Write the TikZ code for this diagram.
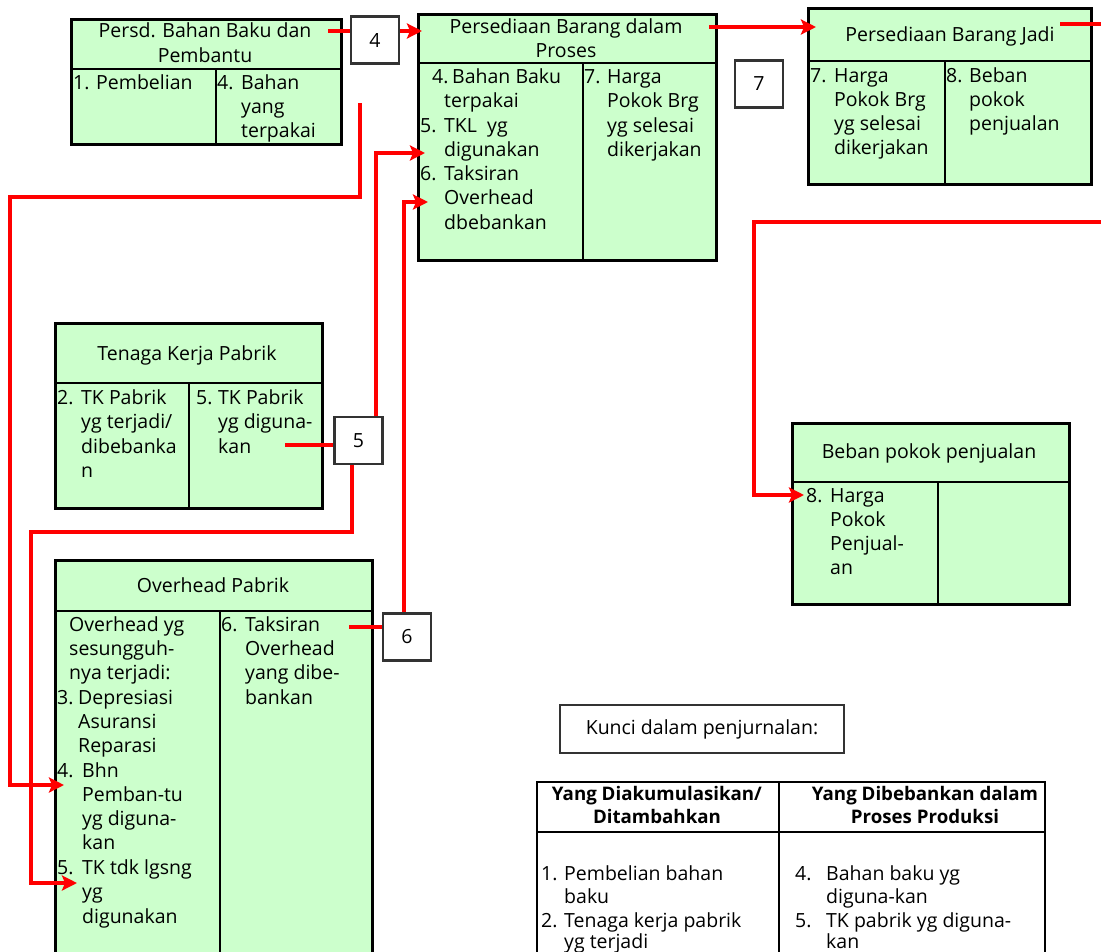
\documentclass[tikz,border=0pt]{standalone}
\usepackage{fontspec}
\setmainfont{Open Sans}
\usetikzlibrary{arrows.meta}
\definecolor{boxgreen}{HTML}{CCFFCC}
\definecolor{lnred}{HTML}{FF0000}
\newcounter{tnode}
\newcommand\TxtAt[3]{\stepcounter{tnode}\node[txt] (tx\number\value{tnode}) at (#1,#2) {#3};}
\newcommand\CtrAt[3]{\stepcounter{tnode}\node[txt,anchor=base] (tx\number\value{tnode}) at (#1,#2) {#3};}
\newcommand\BoldAt[3]{\stepcounter{tnode}\node[txt,anchor=base,font=\bfseries\fontsize{18.7}{22}\selectfont] (tx\number\value{tnode}) at (#1,#2) {#3};}
\begin{document}
\begin{tikzpicture}[x=1pt,y=-1pt,
  acct/.style={draw=black, fill=boxgreen, line width=2.5pt, rectangle, inner sep=0pt, anchor=north west},
  numbox/.style={draw=black!80, fill=white, line width=2.2pt, rectangle, inner sep=0pt, minimum width=48pt, minimum height=47pt, font=\fontsize{19.5}{19.5}\selectfont},
  div/.style={line width=2.5pt, draw=black},
  txt/.style={anchor=base west, inner sep=0pt, font=\fontsize{19.5}{24}\selectfont},
  flow/.style={draw=lnred, line width=4pt},
  flowarr/.style={flow, -{Stealth[length=15pt,width=15pt,inset=3pt]}},
]
\useasboundingbox (0,0) rectangle (1101,951);
\clip (0,0) rectangle (1101,951);

% ---------- account boxes ----------
\node[acct, minimum width=270pt, minimum height=125pt] (pbb) at (70,18) {};
\draw[div] (70,69) -- (340,69) (216,69) -- (216,143);

\node[acct, minimum width=298pt, minimum height=246pt] (pbdp) at (417,13) {};
\draw[div] (417,63) -- (715,63) (583,63) -- (583,259);

\node[acct, minimum width=283pt, minimum height=176pt] (pbj) at (807,7) {};
\draw[div] (807,61) -- (1090,61) (945,61) -- (945,183);

\node[acct, minimum width=277pt, minimum height=181pt] (bpp) at (791,422) {};
\draw[div] (791,482) -- (1068,482) (938,482) -- (938,603);

\node[acct, minimum width=267pt, minimum height=185pt] (tkp) at (54,322) {};
\draw[div] (54,383) -- (321,383) (189,383) -- (189,507);

\node[acct, minimum width=317pt, minimum height=420pt] (ovh) at (54,559) {};
\draw[div] (54,611) -- (371,611) (220,611) -- (220,979);

\node[draw=black!80, line width=1.6pt, fill=white, rectangle, inner sep=0pt, anchor=north west, minimum width=284pt, minimum height=48pt] (kunci) at (559,704) {};
\node[draw=black, line width=2.2pt, fill=white, rectangle, inner sep=0pt, anchor=north west, minimum width=508pt, minimum height=200pt] (tbl) at (536,781) {};
\draw[div, line width=2.2pt] (536,832) -- (1044,832) (779,781) -- (779,981);

% ---------- number boxes ----------
\node[numbox] (b4) at (375,40) {4};
\node[numbox] (b7) at (759,84) {7};
\node[numbox] (b5) at (358.5,440.5) {5};
\node[numbox] (b6) at (407,637) {6};

% ---------- connectors ----------
\coordinate (a1) at (328,31);
\draw[flow] (a1) -- (a1 -| b4.west);
\draw[flowarr] (b4.east |- a1) -- ([xshift=5pt]pbdp.west |- a1);

\coordinate (pout) at (709,27);
\draw[flowarr] (pout) -- ([xshift=9pt]pbj.west |- pout);

\coordinate (jout) at (1060,24);
\coordinate (jexit) at (1112,24);
\draw[flow] (jout) -- (jexit);
\coordinate (jenter) at (1112,222);
\coordinate (jbend) at (754,222);
\coordinate (d8) at (804,495);
\draw[flowarr] (jenter) -- (jbend) |- (d8);

\coordinate (bb4) at (360,103);
\coordinate (bb4b) at (10,197);
\coordinate (o4) at (64,785);
\draw[flowarr] (bb4) |- (bb4b) |- (o4);

\coordinate (p5) at (425,153);
\draw[flowarr] ([xshift=17.5pt]b5.north) |- (p5);

\coordinate (p6) at (428,202);
\draw[flowarr] ([xshift=-3pt]b6.north) |- (p6);

\coordinate (tk5) at (285,445);
\draw[flow] (tk5) -- (tk5 -| b5.west);

\coordinate (b5b) at (31,532);
\coordinate (o5) at (77,883);
\draw[flowarr] ([xshift=-6.5pt]b5.south) |- (b5b) |- (o5);

\coordinate (oh6) at (349,627);
\draw[flow] (oh6) -- (oh6 -| b6.west);

% ---------- texts ----------
% Persd. Bahan Baku dan Pembantu
\CtrAt{205}{37}{Persd. Bahan Baku dan}
\CtrAt{205}{62}{Pembantu}
\TxtAt{73}{89}{1.}\TxtAt{96}{89}{Pembelian}
\TxtAt{217}{89}{4.}\TxtAt{241}{89}{Bahan}
\TxtAt{241}{113}{yang}
\TxtAt{241}{137}{terpakai}

% Persediaan Barang dalam Proses
\CtrAt{566}{33}{Persediaan Barang dalam}
\CtrAt{566}{57}{Proses}
\TxtAt{432}{83}{4.}\TxtAt{452}{83}{Bahan Baku}
\TxtAt{444}{107}{terpakai}
\TxtAt{420}{132}{5.}\TxtAt{444}{132}{TKL\ \ yg}
\TxtAt{444}{156}{digunakan}
\TxtAt{420}{180}{6.}\TxtAt{444}{180}{Taksiran}
\TxtAt{444}{204}{Overhead}
\TxtAt{444}{229}{dbebankan}
\TxtAt{584}{83}{7.}\TxtAt{607}{83}{Harga}
\TxtAt{607}{107}{Pokok Brg}
\TxtAt{607}{132}{yg selesai}
\TxtAt{607}{156}{dikerjakan}

% Persediaan Barang Jadi
\CtrAt{950}{41}{Persediaan Barang Jadi}
\TxtAt{810}{82}{7.}\TxtAt{834}{82}{Harga}
\TxtAt{834}{106}{Pokok Brg}
\TxtAt{834}{130}{yg selesai}
\TxtAt{834}{154}{dikerjakan}
\TxtAt{946}{82}{8.}\TxtAt{969}{82}{Beban}
\TxtAt{969}{106}{pokok}
\TxtAt{969}{130}{penjualan}

% Beban pokok penjualan
\CtrAt{929}{458}{Beban pokok penjualan}
\TxtAt{806}{502}{8.}\TxtAt{830}{502}{Harga}
\TxtAt{830}{526}{Pokok}
\TxtAt{830}{550}{Penjual-}
\TxtAt{830}{574}{an}

% Tenaga Kerja Pabrik
\CtrAt{187}{360}{Tenaga Kerja Pabrik}
\TxtAt{57}{404}{2.}\TxtAt{81}{404}{TK Pabrik}
\TxtAt{81}{428}{yg terjadi/}
\TxtAt{81}{453}{dibebanka}
\TxtAt{81}{477}{n}
\TxtAt{196}{404}{5.}\TxtAt{218}{404}{TK Pabrik}
\TxtAt{218}{428}{yg diguna-}
\TxtAt{218}{453}{kan}

% Overhead Pabrik
\CtrAt{213}{592}{Overhead Pabrik}
\TxtAt{69}{631}{Overhead yg}
\TxtAt{69}{655}{sesungguh-}
\TxtAt{69}{679}{nya terjadi:}
\TxtAt{57}{704}{3.}\TxtAt{78}{704}{Depresiasi}
\TxtAt{78}{728}{Asuransi}
\TxtAt{78}{752}{Reparasi}
\TxtAt{57}{777}{4.}\TxtAt{82}{777}{Bhn}
\TxtAt{82}{801}{Pemban-tu}
\TxtAt{82}{825}{yg diguna-}
\TxtAt{82}{849}{kan}
\TxtAt{57}{874}{5.}\TxtAt{82}{874}{TK tdk lgsng}
\TxtAt{82}{898}{yg}
\TxtAt{82}{923}{digunakan}
\TxtAt{221}{631}{6.}\TxtAt{245}{631}{Taksiran}
\TxtAt{245}{655}{Overhead}
\TxtAt{245}{679}{yang dibe-}
\TxtAt{245}{704}{bankan}

% Kunci
\CtrAt{702}{734}{Kunci dalam penjurnalan:}

% Table
\BoldAt{657}{800}{Yang Diakumulasikan/}
\BoldAt{657}{823}{Ditambahkan}
\BoldAt{925}{800}{Yang Dibebankan dalam}
\BoldAt{925}{823}{Proses Produksi}
\TxtAt{541}{880}{1.}\TxtAt{564}{880}{Pembelian bahan}
\TxtAt{564}{903}{baku}
\TxtAt{541}{927}{2.}\TxtAt{564}{927}{Tenaga kerja pabrik}
\TxtAt{564}{948}{yg terjadi}
\TxtAt{795}{880}{4.}\TxtAt{826}{880}{Bahan baku yg}
\TxtAt{826}{903}{diguna-kan}
\TxtAt{795}{927}{5.}\TxtAt{826}{927}{TK pabrik yg diguna-}
\TxtAt{826}{948}{kan}
\end{tikzpicture}
\end{document}
